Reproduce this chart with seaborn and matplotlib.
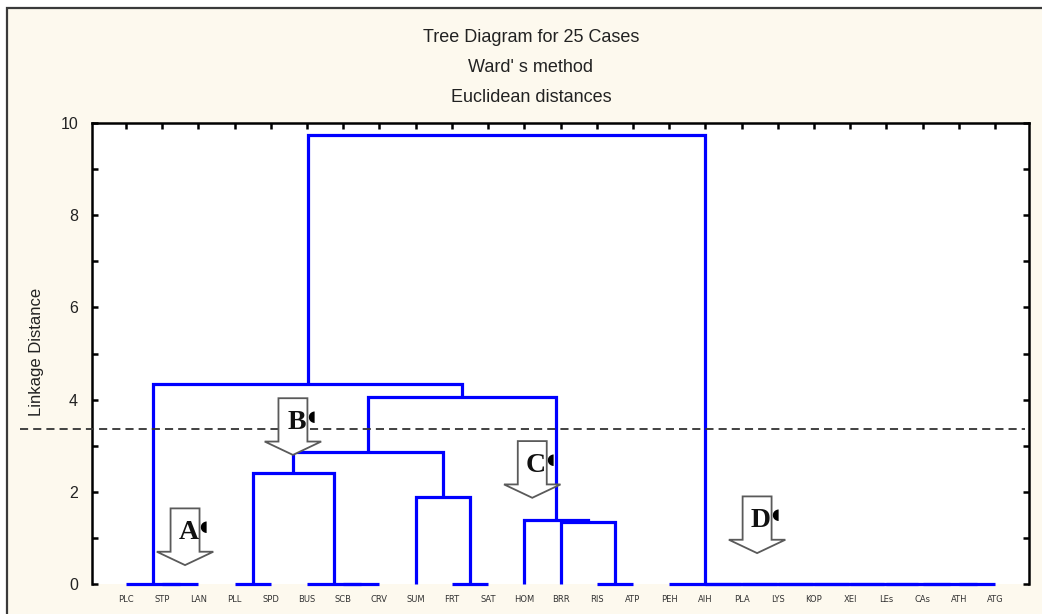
import numpy as np
import pandas as pd
import matplotlib
matplotlib.use("Agg")
import matplotlib.pyplot as plt
import matplotlib.transforms as mtransforms
from matplotlib.patches import Polygon, Rectangle
import seaborn as sns

# Cases in leaf order along the horizontal axis
cases = ["PLC", "STP", "LAN", "PLL", "SPD", "BUS", "SCB", "CRV", "SUM", "FRT",
         "SAT", "HOM", "BRR", "RIS", "ATP", "PEH", "AIH", "PLA", "LYS", "KOP",
         "XEI", "LEs", "CAs", "ATH", "ATG"]

# Ward linkage (scipy-style): cluster ids 0..24 are cases, 25+k is the k-th merge
link_a = [1, 0, 3, 6, 5, 9, 13, 23, 22, 21, 20, 19, 18, 17, 16, 15,
          12, 11, 8, 27, 44, 45, 26, 47]
link_b = [2, 25, 4, 7, 28, 10, 14, 24, 32, 33, 34, 35, 36, 37, 38, 39,
          31, 41, 30, 29, 43, 42, 46, 40]
link_h = [0, 0, 0, 0, 0, 0, 0, 0, 0, 0, 0, 0, 0, 0, 0, 0,
          1.35, 1.39, 1.89, 2.41, 2.86, 4.06, 4.34, 9.74]

cut_height = 3.36

# Group markers: label, arrow tip (x in case units, y in linkage distance)
group_labels = ["A", "B", "C", "D"]
group_tip_x = [2.63, 5.61, 12.22, 18.43]
group_tip_y = [0.41, 2.80, 1.87, 0.67]

title_lines = ["Tree Diagram for 25 Cases", "Ward' s method", "Euclidean distances"]
y_label = "Linkage Distance"

# ---- build dendrogram segments (Statistica style: parent sits at midpoint) ----
pos = {i: (float(i + 1), 0.0) for i in range(len(cases))}
rows = []
for k, (a, b, h) in enumerate(zip(link_a, link_b, link_h)):
    xa, ha = pos[a]
    xb, hb = pos[b]
    for j, (x, y) in enumerate([(xa, ha), (xa, h), (xb, h), (xb, hb)]):
        rows.append({"seg": k, "order": j, "x": x, "y": y})
    pos[len(cases) + k] = ((xa + xb) / 2.0, h)
seg_df = pd.DataFrame(rows)

# ---- figure ----
sns.set_theme(style="white")
plt.rcParams["font.family"] = ["Liberation Sans", "DejaVu Sans"]

W, H = 1042, 614
fig = plt.figure(figsize=(W / 100, H / 100), dpi=100, facecolor="white")
cream = "#FDF9EE"
fig.patches.append(Rectangle((7 / W, -0.05), 1.2, 1 - 8 / H + 0.05,
                             transform=fig.transFigure, facecolor=cream,
                             edgecolor="#3a3a3a", linewidth=1.6, zorder=-5))

ax = fig.add_axes([92 / W, 1 - 584 / H, (1029 - 92) / W, (584 - 123) / H])
ax.set_facecolor("white")

sns.lineplot(data=seg_df, x="x", y="y", units="seg", estimator=None, sort=False,
             color="#0000FF", linewidth=2.3, ax=ax, legend=False)
for ln in ax.lines:
    ln.set_clip_on(False)
    ln.set_solid_joinstyle("miter")
    ln.set_solid_capstyle("butt")

ax.set_xlim(0.06, 25.94)
ax.set_ylim(0, 10)
ax.set_xlabel("")
ax.set_ylabel("")

# cut line
trans = mtransforms.blended_transform_factory(ax.transAxes, ax.transData)
ax.plot([-0.077, 0.996], [cut_height, cut_height], transform=trans,
        color="#333333", linewidth=1.3, linestyle=(0, (4.5, 2.8)), clip_on=False,
        zorder=3)

# spines and ticks
for side in ["left", "right", "top"]:
    ax.spines[side].set_visible(True)
    ax.spines[side].set_color("black")
    ax.spines[side].set_linewidth(1.8)
ax.spines["bottom"].set_visible(False)

ax.set_xticks(np.arange(1, len(cases) + 1))
ax.set_xticklabels(cases, fontsize=6, color="#333333", family="DejaVu Sans")
ax.tick_params(axis="x", which="both", bottom=False, top=True, direction="in",
               length=4, width=1.8, color="black", labelbottom=True, labeltop=False,
               pad=8)

yt = np.arange(0, 11)
ax.set_yticks(yt)
ax.set_yticklabels([str(v) if v % 2 == 0 else "" for v in yt])
ax.tick_params(axis="y", left=True, right=True, direction="in", length=4,
               width=1.8, color="black", labelsize=11.5, labelcolor="#222222", pad=10)

# group arrows and letters
shaft_hw, head_hw, head_h, total_h = 0.40, 0.78, 0.29, 1.23
for lab, tx, ty in zip(group_labels, group_tip_x, group_tip_y):
    pts = [(tx, ty), (tx + head_hw, ty + head_h), (tx + shaft_hw, ty + head_h),
           (tx + shaft_hw, ty + total_h), (tx - shaft_hw, ty + total_h),
           (tx - shaft_hw, ty + head_h), (tx - head_hw, ty + head_h)]
    ax.add_patch(Polygon(pts, closed=True, facecolor="white", edgecolor="#5a5a5a",
                         linewidth=1.3, zorder=4))
    ax.text(tx + 0.1, ty + 0.70, lab, ha="center", va="center", fontsize=20,
            fontweight="bold", family="Liberation Serif", color="#111111", zorder=5)
    ax.text(tx + 0.5, ty + 0.84, "\u25D6", ha="center", va="center", fontsize=11,
            family="DejaVu Sans", color="black", zorder=5)

# titles
for i, t in enumerate(title_lines):
    fig.text(531 / W, 1 - (38 + 29.5 * i) / H, t, ha="center", va="center",
             fontsize=13, color="#222222")

fig.text(37 / W, 1 - 352 / H, y_label, rotation=90, ha="center", va="center",
         fontsize=12, color="#222222")

fig.savefig("out.png", dpi=100, facecolor=fig.get_facecolor())
